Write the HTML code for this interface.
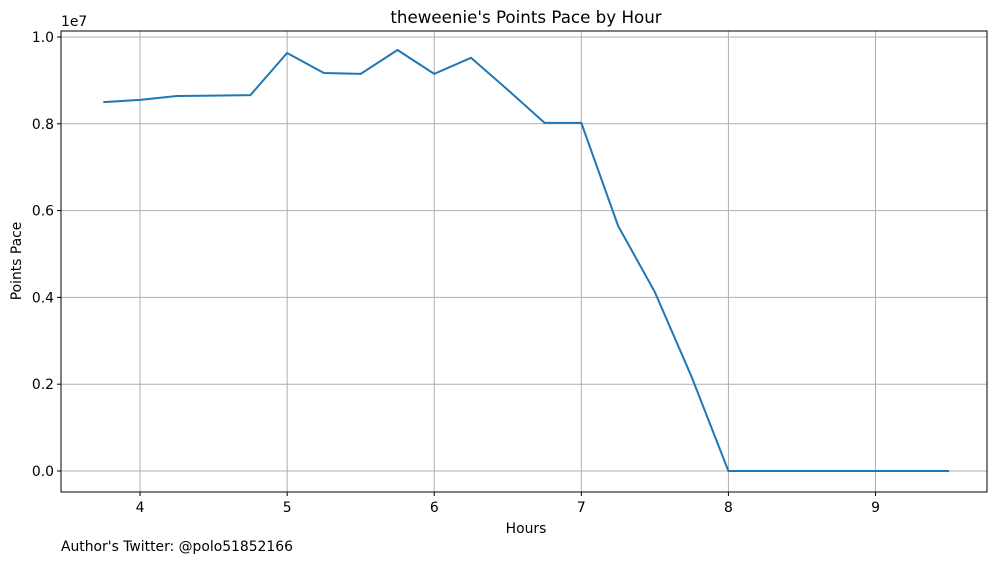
<!DOCTYPE html>
<html><head><meta charset="utf-8"><style>
body{margin:0;background:#fff;font-family:"Liberation Sans","DejaVu Sans",sans-serif;}
svg text{font-family:"DejaVu Sans","Liberation Sans",sans-serif;}
</style></head><body>
<svg id="chart" width="1001" height="562" xmlns="http://www.w3.org/2000/svg">
<rect width="1001" height="562" fill="#fff"/>
<text x="526" y="23" text-anchor="middle" font-size="16.7">theweenie's Points Pace by Hour</text>
<g id="grid"></g>
<g id="ticks"></g>
<path id="line" fill="none" stroke="#1f77b4" stroke-width="2"/>
<rect x="61" y="31" width="926" height="461" fill="none" stroke="#000" stroke-width="1"/>
<text x="526" y="533" text-anchor="middle" font-size="13.9">Hours</text>
<text transform="translate(21,261) rotate(-90)" text-anchor="middle" font-size="13.9">Points Pace</text>
<text x="61" y="26" font-size="13.9">1e7</text>
<text x="61" y="551" font-size="13.9">Author's Twitter: @polo51852166</text>
</svg>
<script>
const hours=[3.75,4,4.25,4.5,4.75,5,5.25,5.5,5.75,6,6.25,6.5,6.75,7,7.25,7.5,7.75,8,8.25,8.5,8.75,9,9.25,9.5];
const pace=[8.50e6,8.55e6,8.64e6,8.65e6,8.66e6,9.63e6,9.17e6,9.15e6,9.70e6,9.15e6,9.52e6,8.78e6,8.02e6,8.02e6,5.65e6,4.12e6,2.17e6,0,0,0,0,0,0,0];
const xTicks=[4,5,6,7,8,9];
const yTicks=[0,0.2,0.4,0.6,0.8,1.0];
const L=61,R=987,T=31,B=492,xMin=3.4625,xMax=9.758,yMin=-0.0484e7,yMax=1.0138e7;
const sx=v=>L+(v-xMin)/(xMax-xMin)*(R-L);
const sy=v=>B-(v-yMin)/(yMax-yMin)*(B-T);
const NS="http://www.w3.org/2000/svg";
const grid=document.getElementById('grid'),ticks=document.getElementById('ticks');
function mk(tag,attrs,parent){const e=document.createElementNS(NS,tag);for(const k in attrs)e.setAttribute(k,attrs[k]);parent.appendChild(e);return e;}
xTicks.forEach(t=>{const x=sx(t);
 const g=mk('line',{x1:x,x2:x,y1:T,y2:B,stroke:'#b0b0b0','stroke-width':1},grid);
 
 
 mk('line',{x1:x,x2:x,y1:B,y2:B+4,stroke:'#000'},ticks);
 const tx=mk('text',{x:x,y:B+20,'text-anchor':'middle','font-size':13.9},ticks);tx.textContent=t;
 
 
});
yTicks.forEach(t=>{const y=sy(t*1e7);
 const g=mk('line',{x1:L,x2:R,y1:y,y2:y,stroke:'#b0b0b0','stroke-width':1},grid);
 
 
 mk('line',{x1:L-4,x2:L,y1:y,y2:y,stroke:'#000'},ticks);
 const tx=mk('text',{x:L-7,y:y+5,'text-anchor':'end','font-size':13.9},ticks);tx.textContent=t.toFixed(1);
 
 
});
document.getElementById('line').setAttribute('d',hours.map((h,i)=>(i?'L':'M')+sx(h).toFixed(1)+','+sy(pace[i]).toFixed(1)).join(''));
</script>
</body></html>
